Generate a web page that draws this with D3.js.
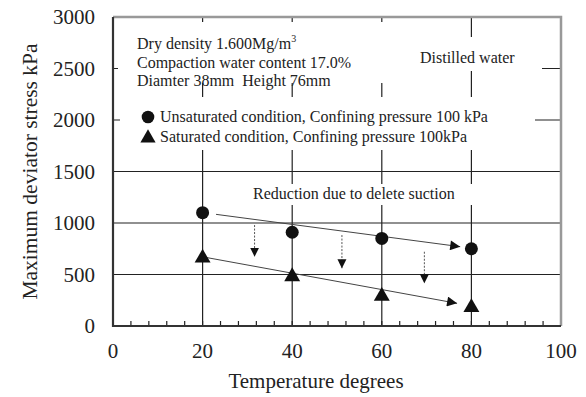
<!DOCTYPE html>
<html>
<head>
<meta charset="utf-8">
<script src="https://cdn.jsdelivr.net/npm/d3@7"></script>
<style>
  body { margin: 0; background: #fff; }
  text { font-family: "Liberation Serif", "Times New Roman", serif; fill: #222; white-space: pre; }
</style>
</head>
<body>
<div id="chart"></div>
<script>
// Max deviator stress vs temperature

const width = 586,
    height = 397,
    margin = ({ top: 17, right: 25, bottom: 71, left: 113 });

const xTicks = [0, 20, 40, 60, 80, 100];
const yTicks = [0, 500, 1000, 1500, 2000, 2500, 3000];
const temps = [20, 40, 60, 80];
const unsaturated = [1100, 910, 850, 750];
const saturated = [660, 480, 290, 180];

// trend arrows [x1, y1, x2, y2] in data units
const trendArrows = [
  [23.0, 1084, 77.5, 770],
  [20.6, 667, 76.8, 220]
];
// dashed reduction arrows [x, yFrom, yTo]
const reductionArrows = [
  [31.6, 980, 673],
  [51.1, 883, 560],
  [69.5, 721, 414]
];

const infoLines = ["Dry density 1.600Mg/m", "Compaction water content 17.0%", "Diamter 38mm  Height 76mm"];
const legendLabels = [
  "Unsaturated condition, Confining pressure 100 kPa",
  "Saturated condition, Confining pressure 100kPa"
];

const svg = d3.select("#chart")
  .append("svg")
  .attr("width", width)
  .attr("height", height);

const x = d3.scaleLinear()
  .domain([0, 100])
  .range([margin.left, width - margin.right]);

const y = d3.scaleLinear()
  .domain([0, 3000])
  .range([height - margin.bottom, margin.top]);

const x0 = x(0), x1 = x(100), y0 = y(0), y1 = y(3000);

// grid lines
const grid = svg.append("g").attr("stroke", "#222").attr("stroke-width", 1.2);
grid.selectAll(".vg").data(temps).join("line")
  .attr("x1", d => x(d)).attr("x2", d => x(d))
  .attr("y1", y0).attr("y2", y1);
grid.selectAll(".hg").data(yTicks.filter(d => d > 0 && d < 3000)).join("line")
  .attr("x1", x0).attr("x2", x1)
  .attr("y1", d => y(d)).attr("y2", d => y(d));

// white boxes behind text (they hide the grid)
const boxes = [
  [118, 22, 450, 83],
  [405, 37, 542, 71],
  [120, 97, 535, 150],
  [240, 184, 478, 205]
];
svg.append("g").selectAll("rect").data(boxes).join("rect")
  .attr("x", d => d[0]).attr("y", d => d[1])
  .attr("width", d => d[2] - d[0]).attr("height", d => d[3] - d[1])
  .attr("fill", "#fff");

// minor ticks on the x axis
svg.append("g").selectAll("line")
  .data(d3.range(4, 100, 4))
  .join("line")
  .attr("x1", d => x(d)).attr("x2", d => x(d))
  .attr("y1", y0).attr("y2", y0 - 5)
  .attr("stroke", "#222").attr("stroke-width", 1.2);

// frame: top and right grey, left and bottom dark
svg.append("path")
  .attr("d", `M${x0},${y1}H${x1}V${y0}`)
  .attr("fill", "none").attr("stroke", "#999").attr("stroke-width", 2.5);
svg.append("path")
  .attr("d", `M${x0},${y1}V${y0}H${x1}`)
  .attr("fill", "none").attr("stroke", "#333").attr("stroke-width", 2.2);

// axis labels
svg.append("g").selectAll("text").data(xTicks).join("text")
  .attr("x", d => x(d)).attr("y", y0 + 32)
  .attr("text-anchor", "middle")
  .attr("font-size", 21)
  .text(d => d);

svg.append("g").selectAll("text").data(yTicks).join("text")
  .attr("x", x0 - 18).attr("y", d => y(d))
  .attr("dy", "0.35em")
  .attr("text-anchor", "end")
  .attr("font-size", 21)
  .text(d => d);

svg.append("text")
  .attr("x", 316).attr("y", 388)
  .attr("text-anchor", "middle")
  .attr("font-size", 21)
  .text("Temperature degrees");

svg.append("text")
  .attr("transform", `translate(37,${(y0 + y1) / 2}) rotate(-90)`)
  .attr("text-anchor", "middle")
  .attr("font-size", 21.5)
  .text("Maximum deviator stress kPa");

// info text
const info = svg.append("g");
info.selectAll("text").data(infoLines).join("text")
  .attr("x", 137).attr("y", (d, i) => 49 + i * 18.5)
  .attr("font-size", 16)
  .text(d => d);
info.select("text").append("tspan")
  .attr("font-size", 10).attr("dy", -7).text("3");

svg.append("text")
  .attr("x", 420).attr("y", 63)
  .attr("font-size", 16)
  .text("Distilled water");

// legend
const leg = svg.append("g");
leg.append("circle").attr("cx", 148).attr("cy", 117).attr("r", 6.3).attr("fill", "#111");
leg.append("path")
  .attr("d", d3.symbol(d3.symbolTriangle, 100)())
  .attr("transform", "translate(148,138)")
  .attr("fill", "#111");
leg.selectAll("text").data(legendLabels).join("text")
  .attr("x", 160).attr("y", (d, i) => 122 + i * 20)
  .attr("font-size", 16)
  .text(d => d);

svg.append("text")
  .attr("x", 253).attr("y", 199)
  .attr("font-size", 16)
  .text("Reduction due to delete suction");

// arrow markers
const defs = svg.append("defs");
defs.append("marker")
  .attr("id", "solidHead")
  .attr("viewBox", "0 0 10 10")
  .attr("refX", 10).attr("refY", 5)
  .attr("markerUnits", "userSpaceOnUse")
  .attr("markerWidth", 13).attr("markerHeight", 10)
  .attr("orient", "auto")
  .append("path").attr("d", "M0,0L10,5L0,10Z").attr("fill", "#111");
defs.append("marker")
  .attr("id", "dashHead")
  .attr("viewBox", "0 0 10 10")
  .attr("refX", 10).attr("refY", 5)
  .attr("markerUnits", "userSpaceOnUse")
  .attr("markerWidth", 9).attr("markerHeight", 10)
  .attr("orient", "auto")
  .append("path").attr("d", "M0,0L10,5L0,10Z").attr("fill", "#111");

svg.append("g").selectAll("line").data(trendArrows).join("line")
  .attr("x1", d => x(d[0])).attr("y1", d => y(d[1]))
  .attr("x2", d => x(d[2])).attr("y2", d => y(d[3]))
  .attr("stroke", "#444").attr("stroke-width", 1)
  .attr("marker-end", "url(#solidHead)");

svg.append("g").selectAll("line").data(reductionArrows).join("line")
  .attr("x1", d => x(d[0])).attr("y1", d => y(d[1]))
  .attr("x2", d => x(d[0])).attr("y2", d => y(d[2]))
  .attr("stroke", "#555").attr("stroke-width", 1)
  .attr("stroke-dasharray", "2,1.5")
  .attr("marker-end", "url(#dashHead)");

// data points
svg.append("g").selectAll("circle").data(temps).join("circle")
  .attr("cx", d => x(d))
  .attr("cy", (d, i) => y(unsaturated[i]))
  .attr("r", 6.5)
  .attr("fill", "#111");

svg.append("g").selectAll("path").data(temps).join("path")
  .attr("d", d3.symbol(d3.symbolTriangle, 110)())
  .attr("transform", (d, i) => `translate(${x(d)},${y(saturated[i])})`)
  .attr("fill", "#111");
</script>
</body>
</html>
